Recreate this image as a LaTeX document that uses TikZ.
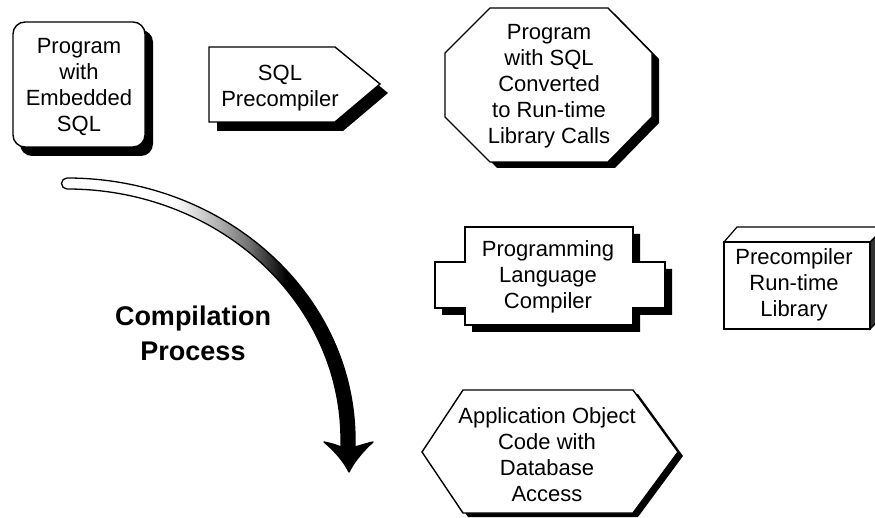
\documentclass[tikz,border=0pt]{standalone}
\usepackage{fontspec}
\setmainfont{Liberation Sans}
\pgfdeclarehorizontalshading{arrowshade}{100bp}{color(0bp)=(white); color(43bp)=(white); color(50bp)=(black!30); color(55bp)=(black!55); color(61bp)=(black); color(100bp)=(black)}
\tikzset{
  shape outline/.style={draw=black, fill=white, line width=1.4pt, line join=miter},
  shadowfill/.style={fill=black},
  boxtext/.style={inner sep=0pt, align=center, font=\fontsize{22}{26}\selectfont},
  bigtext/.style={inner sep=0pt, align=center, font=\fontsize{27}{35}\selectfont\bfseries},
}
\begin{document}
\begin{tikzpicture}[x=1pt,y=-1pt]
\useasboundingbox (0,0) rectangle (875,518);

% Box 1: rounded rectangle
\fill[shadowfill, rounded corners=12pt] (20,30) rectangle (153,156);
\draw[shape outline, rounded corners=12pt] (13,22) rectangle (145,147);
\node[boxtext] (prog) at (79,87) {Program\\with\\Embedded\\SQL};

% Box 2: pentagon arrow
\fill[shadowfill] (217,56) -- (343,56) -- (388,93) -- (343,131) -- (217,131) -- cycle;
\draw[shape outline] (209,47) -- (335,47) -- (380,84) -- (335,122) -- (209,122) -- cycle;
\node[boxtext] (pre) at (280,88) {SQL\\Precompiler};

% Box 3: octagon
\fill[shadowfill] (497,14) -- (615,14) -- (659,59) -- (659,123) -- (615,168) -- (497,168) -- (452,123) -- (452,59) -- cycle;
\draw[shape outline] (490,8) -- (608,8) -- (652,53) -- (652,117) -- (608,162) -- (490,162) -- (445,117) -- (445,53) -- cycle;
\node[boxtext] (conv) at (549,86) {Program\\with SQL\\Converted\\to Run-time\\Library Calls};

% Box 4: compiler
\fill[shadowfill] (472,234) -- (640,234) -- (640,269) -- (672,269) -- (672,315) -- (640,315) -- (640,332) -- (472,332) -- (472,315) -- (442,315) -- (442,269) -- (472,269) -- cycle;
\draw[shape outline] (465,227) -- (633,227) -- (633,262) -- (665,262) -- (665,308) -- (633,308) -- (633,325) -- (465,325) -- (465,308) -- (435,308) -- (435,262) -- (465,262) -- cycle;
\node[boxtext] (comp) at (548,277) {Programming\\Language\\Compiler};

% Box 5: 3D library box
\draw[draw=black, fill=black!80, line width=1.2pt] (870,242) -- (885,227) -- (885,314) -- (870,329) -- cycle;
\draw[draw=black, fill=white, line width=1.2pt] (724,242) -- (737,227) -- (885,227) -- (870,242) -- cycle;
\draw[draw=black, fill=white, line width=1.2pt] (724,242) rectangle (870,329);
\node[boxtext] (lib) at (794,285) {Precompiler\\Run-time\\Library};

% Box 6: hexagon
\fill[shadowfill] (468,394) -- (638,394) -- (683,456) -- (638,517) -- (468,517) -- (427,456) -- cycle;
\draw[shape outline] (463,390) -- (633,390) -- (678,452) -- (633,513) -- (463,513) -- (422,452) -- cycle;
\node[boxtext] (obj) at (547,455) {Application Object\\Code with\\Database\\Access};

% Curved compilation arrow
\path[shading=arrowshade, draw=black, line width=1.3pt, line join=round]
  (67,178) arc[start angle=-90, end angle=0, x radius=288, y radius=262]
  -- (355,447) .. controls (362,445) and (368,443) .. (373,442)
  .. controls (362,452) and (354,462) .. (349,472)
  .. controls (344,462) and (336,452) .. (324,442)
  .. controls (330,443) and (336,445) .. (341,447)
  -- (341,440) arc[start angle=0, end angle=-90, x radius=274, y radius=251]
  arc[start angle=90, end angle=270, radius=5.5] -- cycle;
\coordinate (arrowtip) at (349,472);
\node[bigtext] (label) at (193,333) {Compilation\\Process};
\end{tikzpicture}
\end{document}
